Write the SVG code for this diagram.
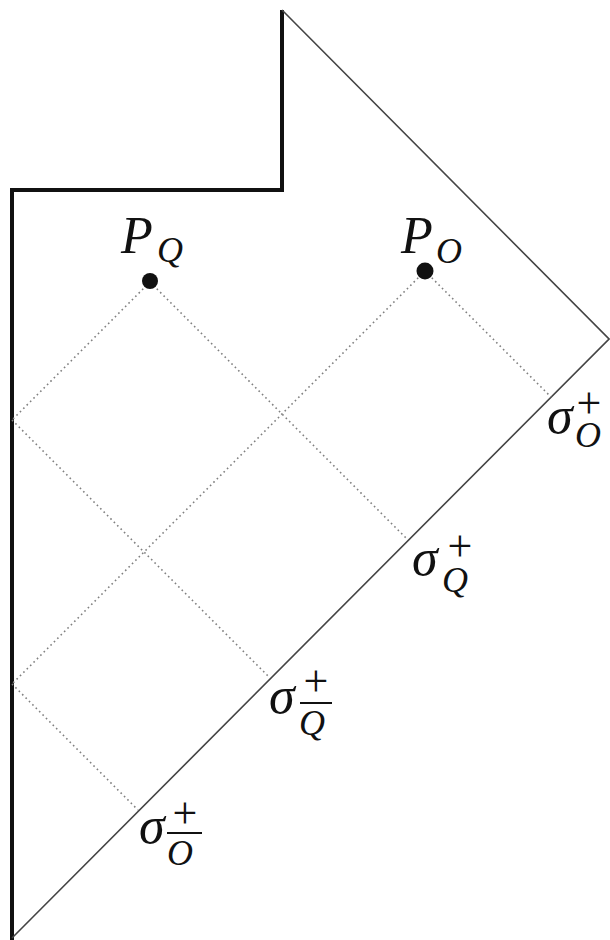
<svg xmlns="http://www.w3.org/2000/svg" width="610" height="940" viewBox="0 0 610 940">
<style>
.bd{fill:none;stroke:#111;stroke-width:4;stroke-linejoin:miter}
.th{fill:none;stroke:#444;stroke-width:1.6}
.dt{fill:none;stroke:#808080;stroke-width:1.6;stroke-dasharray:1.6 3.2}
.m{font-family:"Liberation Serif",serif;font-style:italic;fill:#111}
.r{font-family:"Liberation Serif",serif;fill:#111}
.bar{stroke:#111;stroke-width:2}
</style>
<rect width="610" height="940" fill="#fff"/>
<g id="boundary">
<polyline class="bd" points="12,940 12,190 282,190 282,10"/>
<polyline class="th" points="282,10 609,339 12,938"/>
</g>
<g id="connectors">
<line class="dt" x1="150" y1="282" x2="12" y2="420"/>
<line class="dt" x1="150" y1="282" x2="408" y2="540"/>
<line class="dt" x1="425" y1="271" x2="12" y2="684"/>
<line class="dt" x1="425" y1="271" x2="551" y2="397"/>
<line class="dt" x1="12" y1="420" x2="270" y2="678"/>
<line class="dt" x1="12" y1="684" x2="138" y2="810"/>
</g>
<g id="PQ">
<circle cx="150" cy="281" r="8" fill="#111"/>
<text class="m" x="121" y="253" font-size="52">P</text>
<text class="m" x="157" y="262" font-size="36">Q</text>
</g>
<g id="PO">
<circle cx="425" cy="271" r="8.5" fill="#111"/>
<text class="m" x="401" y="253" font-size="52">P</text>
<text class="m" x="436" y="263" font-size="36">O</text>
</g>
<g id="sigmaO">
<text class="m" x="547" y="433" font-size="52">σ</text>
<text class="r" x="589" y="418" font-size="44" text-anchor="middle">+</text>
<text class="m" x="575" y="447" font-size="36">O</text>
</g>
<g id="sigmaQ">
<text class="m" x="412" y="575" font-size="52">σ</text>
<text class="r" x="460" y="561" font-size="44" text-anchor="middle">+</text>
<text class="m" x="442" y="592" font-size="36">Q</text>
</g>
<g id="sigmaQbar">
<text class="m" x="269" y="713" font-size="52">σ</text>
<text class="r" x="316" y="696" font-size="44" text-anchor="middle">+</text>
<line class="bar" x1="300" y1="703" x2="332" y2="703"/>
<text class="m" x="299" y="735" font-size="36">Q</text>
</g>
<g id="sigmaObar">
<text class="m" x="139" y="843" font-size="52">σ</text>
<text class="r" x="185" y="828" font-size="44" text-anchor="middle">+</text>
<line class="bar" x1="167" y1="833" x2="202" y2="833"/>
<text class="m" x="167" y="865" font-size="36">O</text>
</g>
</svg>
